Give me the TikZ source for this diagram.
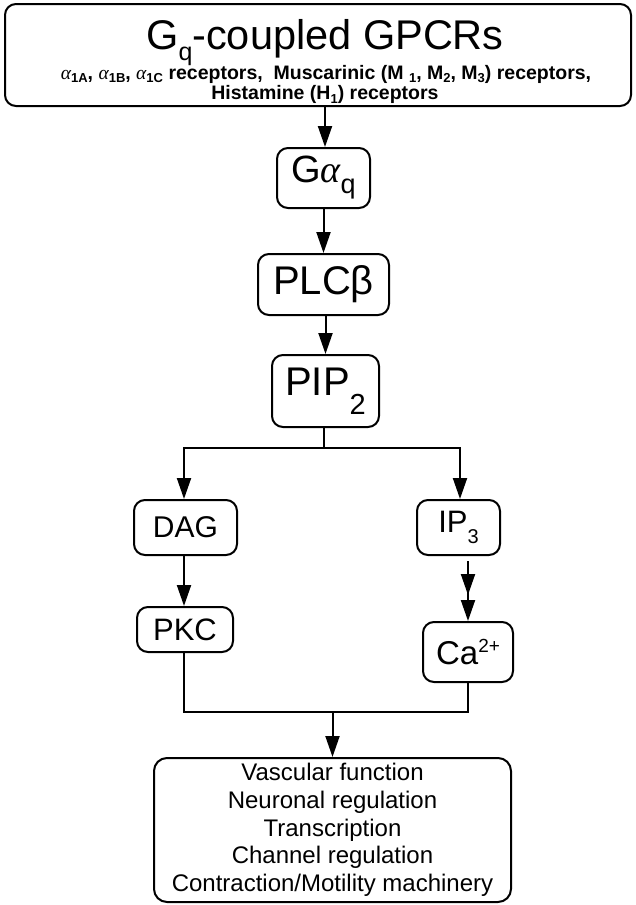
\documentclass[tikz,border=0pt]{standalone}
\usepackage{fontspec}
\setmainfont{Liberation Sans}
\newfontfamily\grk{Liberation Serif}
\usetikzlibrary{arrows.meta,calc}
% font size helper and a shifted sub/superscript helper
\newcommand{\fs}[1]{\fontsize{#1}{#1}\selectfont}
\newcommand{\shiftsc}[3]{\raisebox{#1pt}{\fs{#2}#3}}
\newcommand{\alf}{{\grk\mdseries\itshape α}}

\begin{document}
\begin{tikzpicture}[x=1pt,y=-1pt,
  box/.style={draw,line width=2pt,rounded corners=11pt,inner sep=0pt,align=center},
  ln/.style={line width=2pt},
  arr/.style={line width=2pt,-{Triangle[length=21pt,width=14pt]}},
  dblarr/.style={line width=2pt,-{Triangle[length=21pt,width=14pt,sep=5pt]Triangle[length=21pt,width=14pt]}}]
\useasboundingbox (0,0) rectangle (636,905);

% receptor box
\node[box,minimum width=626pt,minimum height=102pt] (gpcr) at (318,55) {};
\node[anchor=base,inner sep=0pt] (title) at (325,49) {\fs{41.5}G\shiftsc{-11}{25}{q}-coupled GPCRs};
\node[anchor=base,inner sep=0pt] (rec) at (326,79) {\fs{19.5}\bfseries
  \alf\shiftsc{-3.5}{13}{1A}, \alf\shiftsc{-3.5}{13}{1B}, \alf\shiftsc{-3.5}{13}{1C} receptors,\ \ Muscarinic (M\ \shiftsc{-3.5}{13}{1}, M\shiftsc{-3.5}{13}{2}, M\shiftsc{-3.5}{13}{3}) receptors,};
\node[anchor=base,inner sep=0pt] (hist) at (325,99.5) {\fs{19.5}\bfseries Histamine (H\shiftsc{-3.5}{13}{1}) receptors};

% cascade
\node[box,minimum width=93pt,minimum height=60pt] (gaq) at (323.5,178) {\fs{38}G{\grk\itshape α}\shiftsc{-11}{27}{q}};
\node[box,minimum width=131pt,minimum height=61pt] (plc) at (323.5,284.5) {\fs{40}PLCβ};
\node[box,minimum width=107pt,minimum height=72pt] (pip) at (325.5,391) {\fs{40}PIP\shiftsc{-19}{29}{2}};
\node[box,minimum width=103pt,minimum height=55pt] (dag) at (185.5,527.5) {\fs{30}DAG};
\node[box,minimum width=83pt,minimum height=55pt] (ip3) at (458.5,527.5) {\fs{31}IP\shiftsc{-11}{20}{3}};
\node[box,minimum width=96pt,minimum height=45pt] (pkc) at (185,629.5) {\fs{31}PKC};
\node[box,minimum width=90pt,minimum height=60pt] (ca) at (468,652) {\fs{33}Ca\shiftsc{12}{19}{2+}};
\node[box,minimum width=357pt,minimum height=144pt,rounded corners=13pt,
  font=\fontsize{24}{27.7}\selectfont] (out) at (332.5,830)
  {Vascular function\\ Neuronal regulation\\ Transcription\\ Channel regulation\\ Contraction/Motility machinery};

% vertical guide lines for the connectors
\coordinate (xtop) at (325,0);
\coordinate (xleft) at (184,0);
\coordinate (xright) at (460,0);
\coordinate (split) at (324,448);
\coordinate (join) at (332.5,712);

% connectors
\draw[arr] (gpcr.south -| xtop) -- (gaq.north -| xtop);
\draw[arr] (gaq) -- (plc);
\draw[arr] (plc.south -| pip.north) -- (pip);
\draw[ln] (pip.south -| split) -- (split);
\draw[arr] (split) -| (dag.north -| xleft);
\draw[arr] (split) -| (ip3.north -| xright);
\draw[arr] (dag.south -| xleft) -- (pkc.north -| xleft);
\draw[dblarr] ([yshift=-5pt]ip3.south -| ca.north) -- (ca.north);
\draw[ln] (pkc.south -| xleft) |- (join) -| (ca.south);
\draw[arr] (join) -- (out.north);
\end{tikzpicture}
\end{document}
